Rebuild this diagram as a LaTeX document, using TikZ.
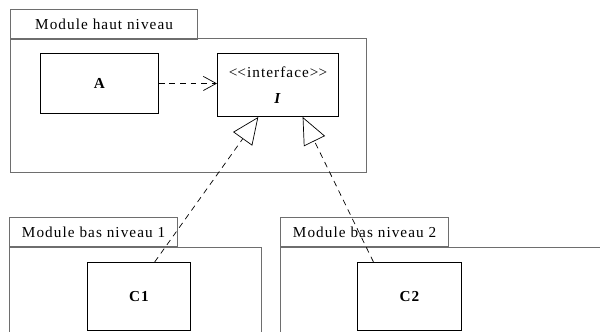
\documentclass[tikz,border=0pt]{standalone}
\usepackage{fontspec}
\setmainfont{Liberation Serif}[LetterSpace=7]
\usetikzlibrary{arrows.meta,positioning}
\definecolor{pkggrey}{RGB}{110,110,110}

\begin{document}
\begin{tikzpicture}[x=0.03cm, y=-0.03cm,
    pkgtab/.style={rectangle, draw=pkggrey, line width=1pt, anchor=north west,
                   minimum height=0.88cm, inner sep=0pt, font=\fontsize{13}{15}\selectfont},
    pkgbody/.style={rectangle, draw=pkggrey, line width=1pt, anchor=north west, inner sep=0pt},
    classbox/.style={rectangle, draw=black, line width=0.8pt, anchor=north west, inner sep=0pt,
                     align=center, font=\fontsize{13}{15}\selectfont\bfseries},
    dep/.style={draw=black, line width=0.6pt, dash pattern=on 5pt off 4pt, -{Straight Barb[length=11pt,width=12pt]}},
    real/.style={draw=black, line width=0.6pt, dash pattern=on 5pt off 4pt, -{Triangle[open,length=23pt,width=20pt]}}
]
    \clip (0,0) rectangle (600,331);
    \path[use as bounding box] (0,0) rectangle (600,331);

    % module haut niveau
    \node[pkgtab, minimum width=5.61cm] (tabhaut) at (10,9) {Module haut niveau};
    \node[pkgbody, minimum width=10.68cm, minimum height=4.02cm] (haut) at (10,38) {};
    \node[classbox, minimum width=3.54cm, minimum height=1.8cm] (A) at (40,53) {A};
    \node[classbox, minimum width=3.63cm, minimum height=1.89cm, font=\fontsize{13}{22}\selectfont] (I) at (217,53)
        {<\kern0pt<interface>\kern0pt>\\\textbf{\textit{I}}};

    % modules bas niveau
    \node[pkgtab, minimum width=5.04cm] (tabbas1) at (9,217) {Module bas niveau 1};
    \node[pkgbody, minimum width=7.56cm, minimum height=3cm] (bas1) at (9,247) {};
    \node[classbox, minimum width=3.09cm, minimum height=2.04cm] (C1) at (87,262) {C1};

    \node[pkgtab, minimum width=5.04cm] (tabbas2) at (280,217) {Module bas niveau 2};
    \node[pkgbody, minimum width=10cm, minimum height=3cm] (bas2) at (280,247) {};
    \node[classbox, minimum width=3.12cm, minimum height=2.04cm] (C2) at (357,262) {C2};

    % liens
    \draw[dep] (A.east) -- (A.east -| I.west);
    \draw[real] ([xshift=0.47cm]C1.north) -- ([xshift=-0.59cm]I.south);
    \draw[real] ([xshift=-1.08cm]C2.north) -- ([xshift=0.74cm]I.south);
\end{tikzpicture}
\end{document}
